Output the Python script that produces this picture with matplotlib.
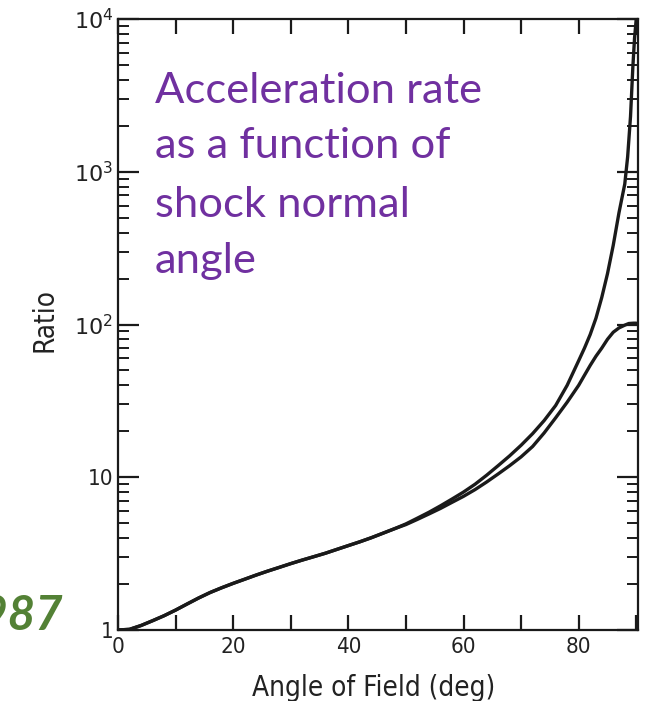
import matplotlib
matplotlib.use("Agg")
import matplotlib.pyplot as plt
from matplotlib.ticker import FixedLocator, LogLocator, NullFormatter

# ---- data ----
angle_upper = [0, 2, 4, 6, 8, 10, 12, 14, 16, 18, 20, 22, 24, 26, 28, 30, 32,
               34, 36, 38, 40, 42, 44, 46, 48, 50, 52, 54, 56, 58, 60, 62, 64,
               66, 68, 70, 72, 74, 76, 78, 80, 81, 82, 83, 84, 85, 86, 87, 88,
               88.5, 89, 89.4, 89.7, 90]
ratio_upper = [1.0, 1.01, 1.07, 1.15, 1.24, 1.35, 1.48, 1.62, 1.76, 1.89, 2.02,
               2.15, 2.29, 2.43, 2.57, 2.72, 2.87, 3.02, 3.18, 3.37, 3.57, 3.78,
               4.02, 4.3, 4.6, 4.95, 5.4, 5.9, 6.5, 7.2, 8.0, 9.0, 10.3, 11.9,
               13.8, 16.2, 19.3, 23.5, 29.5, 40, 58, 70, 86, 110, 150, 215, 330,
               540, 830, 1250, 2300, 4800, 7500, 10000]
angle_lower = [0, 2, 4, 6, 8, 10, 12, 14, 16, 18, 20, 22, 24, 26, 28, 30, 32,
               34, 36, 38, 40, 42, 44, 46, 48, 50, 52, 54, 56, 58, 60, 62, 64,
               66, 68, 70, 72, 74, 76, 78, 80, 81, 82, 83, 84, 85, 86, 87, 88,
               88.7, 89.5, 90]
ratio_lower = [1.0, 1.01, 1.07, 1.15, 1.24, 1.35, 1.48, 1.62, 1.76, 1.89, 2.02,
               2.15, 2.29, 2.43, 2.57, 2.72, 2.87, 3.02, 3.18, 3.37, 3.57, 3.78,
               4.02, 4.3, 4.6, 4.9, 5.3, 5.75, 6.25, 6.85, 7.5, 8.3, 9.3, 10.5,
               11.9, 13.6, 15.9, 19.5, 24.5, 31, 40, 46.5, 54, 62, 70, 80, 89,
               95, 99, 101.5, 102, 102]

x_ticks = [0, 20, 40, 60, 80]
x_minor = [10, 30, 50, 70, 90]
y_ticks = [1, 10, 100, 1000, 10000]
y_tick_labels = ["1", "10", r"$10^2$", r"$10^3$", r"$10^4$"]
x_label = "Angle of Field (deg)"
y_label = "Ratio"
title_lines = ["Acceleration rate", "as a function of", "shock normal", "angle"]
year_text = "1987"

W, H = 652, 701
fig = plt.figure(figsize=(W / 100, H / 100), dpi=100)
ax = fig.add_axes([118 / W, 1 - 630 / H, (638 - 118) / W, (630 - 19) / H])

ink = "#1a1a1a"
ax.plot(angle_upper, ratio_upper, color=ink, lw=2.4, solid_capstyle="round",
        solid_joinstyle="round")
ax.plot(angle_lower, ratio_lower, color=ink, lw=2.4, solid_capstyle="round",
        solid_joinstyle="round")

ax.set_yscale("log")
ax.set_xlim(0, 90.3)
ax.set_ylim(1, 10000)

ax.xaxis.set_major_locator(FixedLocator(x_ticks))
ax.xaxis.set_minor_locator(FixedLocator(x_minor))
ax.yaxis.set_major_locator(FixedLocator(y_ticks))
ax.yaxis.set_minor_locator(LogLocator(base=10, subs=range(2, 10)))
ax.yaxis.set_minor_formatter(NullFormatter())
ax.set_xticklabels([str(t) for t in x_ticks])
ax.set_yticklabels(y_tick_labels)

for s in ax.spines.values():
    s.set_linewidth(1.6)
    s.set_color(ink)

ax.tick_params(axis="x", which="both", direction="in", top=True, bottom=True,
               length=11, width=1.6, color=ink, labelsize=16,
               labelcolor="#222222", pad=5)
ax.tick_params(axis="y", which="major", direction="in", left=True, right=True,
               length=15, width=1.6, color=ink, labelsize=16,
               labelcolor="#222222", pad=3.5)
ax.tick_params(axis="y", which="minor", direction="in", left=True, right=True,
               length=8, width=1.4, color=ink)
for lab in ax.get_xticklabels() + ax.get_yticklabels():
    lab.set_fontstretch("condensed")

ax.set_xlabel(x_label, fontsize=20, color="#222222", fontstretch="condensed")
ax.set_ylabel(y_label, fontsize=20, color="#222222", fontstretch="condensed")
ax.xaxis.set_label_coords((373.5 - 118) / 520, (630 - 674) / 611)
ax.yaxis.label.set_va("center")
ax.yaxis.set_label_coords((44 - 118) / 520, (630 - 320) / 611)

# purple annotation (one text per line at measured baselines)
baselines = [103, 158, 217, 273]
for line, yb in zip(title_lines, baselines):
    fig.text(155 / W, 1 - yb / H, line, fontsize=31.3, color="#7030A0",
             family="Lato", ha="left", va="baseline")

fig.text(63 / W, 1 - 630 / H, year_text, fontsize=34, color="#538135",
         family="Lato", fontweight="bold", fontstyle="italic",
         ha="right", va="baseline")

fig.savefig("out.png", dpi=100, facecolor="white")
